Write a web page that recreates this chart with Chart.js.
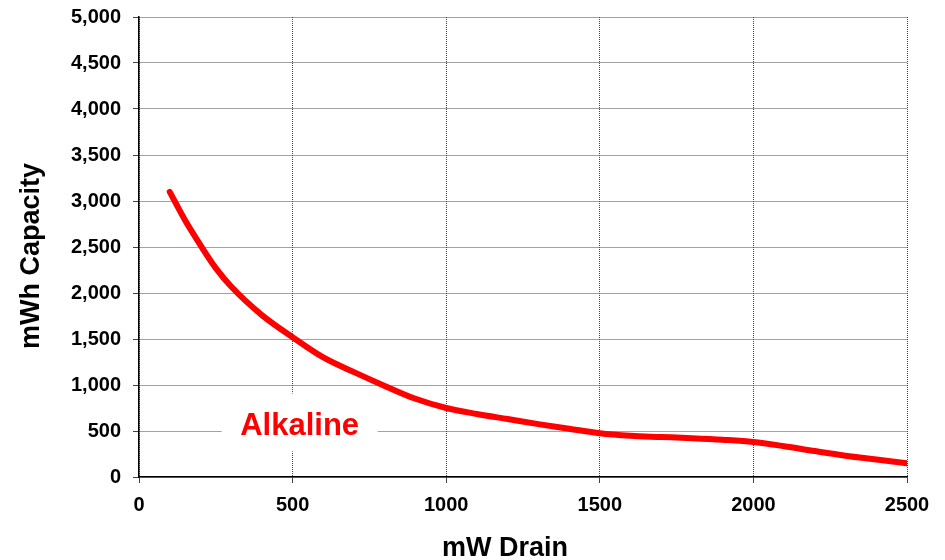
<!DOCTYPE html>
<html>
<head>
<meta charset="utf-8">
<script src="https://cdn.jsdelivr.net/npm/chart.js@4/dist/chart.umd.min.js"></script>
<style>
  html, body { margin: 0; padding: 0; background: #fff; }
  #wrap { width: 945px; height: 560px; position: relative; }
</style>
</head>
<body>
<div id="wrap"><canvas id="c" width="945" height="560"></canvas></div>
<script>
// Alkaline cell: delivered capacity versus continuous drain
const drainMW = [100, 150, 200, 250, 300, 400, 500, 600, 700, 800, 900, 1000,
                 1100, 1200, 1300, 1400, 1500, 1600, 1700, 1800, 1900, 2000,
                 2100, 2200, 2300, 2400, 2500];
const capacityMWh = [3100, 2790, 2520, 2270, 2070, 1760, 1520, 1300, 1140, 990, 850, 750,
                     685, 630, 575, 525, 475, 448, 435, 422, 405, 381,
                     335, 282, 232, 190, 148];

const xTickLabels = ['0', '500', '1000', '1500', '2000', '2500'];
const yTickLabels = ['0', '500', '1,000', '1,500', '2,000', '2,500', '3,000',
                     '3,500', '4,000', '4,500', '5,000'];

const seriesName = 'Alkaline';
const xTitle = 'mW Drain';
const yTitle = 'mWh Capacity';

const FONT = '"Liberation Sans", Arial, sans-serif';
const GRID = '#444444';

// Axis titles placed beside the plot
const axisTitles = {
  id: 'axisTitles',
  afterDraw(chart) {
    const { ctx, chartArea: a } = chart;
    ctx.save();
    ctx.fillStyle = '#000';
    ctx.font = 'bold 27px ' + FONT;
    ctx.textAlign = 'center';
    ctx.textBaseline = 'alphabetic';
    ctx.fillText(xTitle, (a.left + a.right) / 2 - 18, 556);
    ctx.translate(39, (a.top + a.bottom) / 2 + 9);
    ctx.rotate(-Math.PI / 2);
    ctx.fillText(yTitle, 0, 0);
    ctx.restore();
  }
};

// Series name written inside the plot on a white patch
const seriesTag = {
  id: 'seriesTag',
  beforeDatasetsDraw(chart, args, opts) {
    const { ctx, scales } = chart;
    const cx = scales.x.getPixelForValue(opts.x);
    const cy = scales.y.getPixelForValue(opts.y);
    ctx.save();
    ctx.fillStyle = '#fff';
    ctx.fillRect(cx - 78, cy - 29, 156, 58);
    ctx.fillStyle = '#ff0000';
    ctx.font = 'bold 31px ' + FONT;
    ctx.textAlign = 'center';
    ctx.textBaseline = 'alphabetic';
    ctx.fillText(seriesName, cx, cy + 12.5);
    ctx.restore();
  }
};

new Chart(document.getElementById('c'), {
  type: 'line',
  data: {
    datasets: [{
      label: seriesName,
      data: drainMW.map((x, i) => ({ x: x, y: capacityMWh[i] })),
      borderColor: '#ff0000',
      borderWidth: 6,
      borderCapStyle: 'round',
      borderJoinStyle: 'round',
      pointRadius: 0,
      fill: false,
      cubicInterpolationMode: 'monotone'
    }]
  },
  options: {
    responsive: false,
    animation: false,
    devicePixelRatio: 1,
    layout: { padding: { top: 17, right: 38, bottom: 0, left: 0 } },
    plugins: {
      legend: { display: false },
      tooltip: { enabled: false },
      seriesTag: { x: 523, y: 593 }
    },
    scales: {
      x: {
        type: 'linear',
        min: 0, max: 2500,
        afterFit(s) { s.height = 83; },
        ticks: {
          stepSize: 500,
          padding: 10,
          color: '#000',
          font: { family: FONT, size: 20, weight: 'bold' },
          callback: (v) => xTickLabels[Math.round(v / 500)]
        },
        grid: { color: GRID, tickColor: GRID, tickLength: 6, lineWidth: 1, tickBorderDash: [] },
        border: { color: '#000', width: 1.5, dash: [1, 1] },
        title: { display: false }
      },
      y: {
        min: 0, max: 5000,
        afterFit(s) { s.width = 139; s.paddingTop = 0; s.paddingBottom = 0; },
        ticks: {
          stepSize: 500,
          padding: 12,
          color: '#000',
          font: { family: FONT, size: 20, weight: 'bold' },
          callback: (v) => yTickLabels[Math.round(v / 500)]
        },
        grid: { color: GRID, tickColor: GRID, tickLength: 6, lineWidth: 1, tickBorderDash: [] },
        border: { color: '#000', width: 1.5, dash: [1, 1] },
        title: { display: false }
      }
    }
  },
  plugins: [seriesTag, axisTitles]
});
</script>
</body>
</html>
